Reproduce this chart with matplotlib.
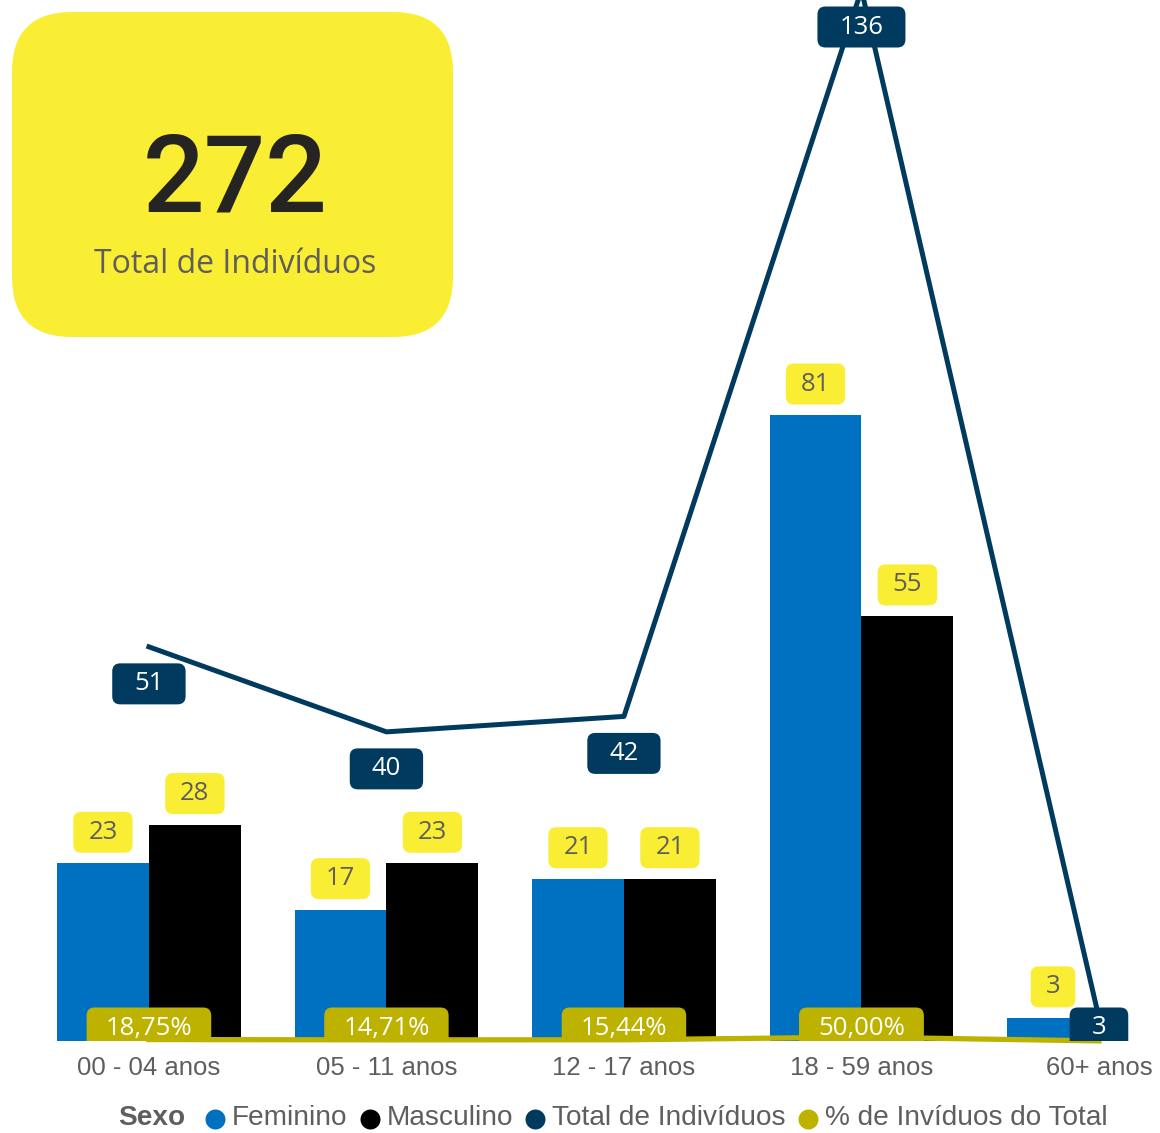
import numpy as np
import matplotlib
matplotlib.use('Agg')
import matplotlib.pyplot as plt
from matplotlib.patches import FancyBboxPatch
import matplotlib.transforms as mtransforms

# dados
categorias = ['00 - 04 anos', '05 - 11 anos', '12 - 17 anos', '18 - 59 anos', '60+ anos']
feminino = [23, 17, 21, 81, 3]
masculino = [28, 23, 21, 55, 0]
total = [51, 40, 42, 136, 3]
percentual = [18.75, 14.71, 15.44, 50.00, 1.10]
total_geral = 272

# cores
AZUL = '#0070C0'
PRETO = '#000000'
MARINHO = '#003A5F'
OLIVA = '#BDB200'
AMARELO = '#F9EE33'
CINZA = '#605E5C'

W, H = 1160, 1133
fig = plt.figure(figsize=(W / 100, H / 100), dpi=100)

# camada de fundo em pixels (cartao e legenda)
fundo = fig.add_axes([0, 0, 1, 1], zorder=0)
fundo.set_xlim(0, W)
fundo.set_ylim(H, 0)
fundo.axis('off')

ax = fig.add_axes([0, 92 / H, 1, 1041 / H], zorder=1)
ax.patch.set_visible(False)
x = np.arange(len(categorias))
largura = 0.387
ymax = 134.7
ax.set_xlim(-0.627, 4.257)
ax.set_ylim(0, ymax)
ppu = 1041 / ymax  # pixels por unidade

ax.bar(x - largura / 2, feminino, largura, color=AZUL, zorder=2)
masc = np.array(masculino)
ax.bar(x[masc > 0] + largura / 2, masc[masc > 0], largura, color=PRETO, zorder=2)
ax.plot(x, np.array(percentual) / 100, color=OLIVA, lw=3.8, zorder=3, clip_on=False)
ax.plot(x, total, color=MARINHO, lw=3.6, zorder=3)

for s in ax.spines.values():
    s.set_visible(False)
ax.set_yticks([])
ax.set_xticks(x, categorias)
ax.tick_params(axis='x', length=0, pad=11, labelsize=18.5, labelcolor=CINZA)
for t in ax.get_xticklabels():
    t.set_family('Liberation Sans')

renderer = fig.canvas.get_renderer()


def rotulo(xv, yv, texto, cor_fundo, cor_texto, padx, h=41):
    t = ax.text(xv, yv, texto, ha='center', va='center', color=cor_texto,
                fontsize=18.5, family='Open Sans', zorder=6)
    w = t.get_window_extent(renderer).width + 2 * padx
    tr = mtransforms.ScaledTranslation(xv, yv, ax.transData)
    caixa = FancyBboxPatch((-w / 2, -h / 2), w, h,
                           boxstyle='round,pad=0,rounding_size=8',
                           fc=cor_fundo, ec='none', zorder=5, transform=tr)
    ax.add_patch(caixa)


# rotulos das barras
for xi, v in zip(x, feminino):
    rotulo(xi - largura / 2, v + 31 / ppu, str(v), AMARELO, CINZA, 15)
for xi, v in zip(x, masculino):
    if v > 0:
        rotulo(xi + largura / 2, v + 31 / ppu, str(v), AMARELO, CINZA, 15)

# rotulos das linhas
y_tot = np.clip(np.array(total) - 37 / ppu, 13 / ppu, ymax - 27 / ppu)
for xi, v, yl in zip(x, total, y_tot):
    rotulo(xi, yl, str(v), MARINHO, 'white', 22)
y_pct = np.clip(np.array(percentual) / 100 - 37 / ppu, 13 / ppu, ymax)
for xi, v, yl in zip(x[:-1], percentual[:-1], y_pct[:-1]):
    rotulo(xi, yl, f'{v:.2f}%'.replace('.', ','), OLIVA, 'white', 19)

# cartao
fundo.add_patch(FancyBboxPatch((12, 12), 441, 325, boxstyle='round,pad=0,rounding_size=60',
                               fc=AMARELO, ec='none'))
fundo.text(235, 211, str(total_geral), ha='center', va='baseline', fontsize=78,
           family='Roboto', weight='medium', color='#252423')
fundo.text(235, 273, 'Total de Indivíduos', ha='center', va='baseline', fontsize=23,
           family='Open Sans', color=CINZA)

# legenda
yl = 1118
t = fundo.text(118, yl, 'Sexo', ha='left', va='center', fontsize=20.2, weight='bold',
               family='Liberation Sans', color=CINZA)
xc = 118 + t.get_window_extent(renderer).width + 30
itens = [('Feminino', AZUL), ('Masculino', PRETO), ('Total de Indivíduos', MARINHO),
         ('% de Invíduos do Total', OLIVA)]
for nome, cor in itens:
    fundo.scatter([xc], [yl + 1], s=207, color=cor, linewidths=0)
    t = fundo.text(xc + 17, yl, nome, ha='left', va='center', fontsize=20.2,
                   family='Liberation Sans', color=CINZA)
    xc = xc + 17 + t.get_window_extent(renderer).width + 22

fig.savefig('out.png', dpi=100)
